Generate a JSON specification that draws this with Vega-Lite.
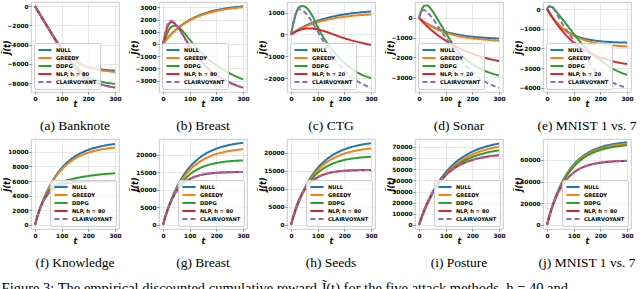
{
"$schema": "https://vega.github.io/schema/vega-lite/v6.json",
"padding": {"left": 1, "top": 1, "right": 0, "bottom": 0},
"datasets": {
"a": [
{"s":"NULL","t":0,"v":0},{"s":"NULL","t":10,"v":-470},{"s":"NULL","t":20,"v":-930},{"s":"NULL","t":30,"v":-1380},{"s":"NULL","t":45,"v":-2050},{"s":"NULL","t":60,"v":-2720},{"s":"NULL","t":80,"v":-3580},{"s":"NULL","t":100,"v":-4350},{"s":"NULL","t":130,"v":-5250},{"s":"NULL","t":160,"v":-5850},{"s":"NULL","t":200,"v":-6300},{"s":"NULL","t":250,"v":-6580},{"s":"NULL","t":300,"v":-6710},
{"s":"GREEDY","t":0,"v":0},{"s":"GREEDY","t":10,"v":-470},{"s":"GREEDY","t":20,"v":-930},{"s":"GREEDY","t":30,"v":-1380},{"s":"GREEDY","t":45,"v":-2050},{"s":"GREEDY","t":60,"v":-2720},{"s":"GREEDY","t":80,"v":-3580},{"s":"GREEDY","t":100,"v":-4340},{"s":"GREEDY","t":130,"v":-5260},{"s":"GREEDY","t":160,"v":-5900},{"s":"GREEDY","t":200,"v":-6380},{"s":"GREEDY","t":250,"v":-6680},{"s":"GREEDY","t":300,"v":-6850},
{"s":"DDPG","t":0,"v":0},{"s":"DDPG","t":10,"v":-470},{"s":"DDPG","t":20,"v":-930},{"s":"DDPG","t":30,"v":-1380},{"s":"DDPG","t":45,"v":-2060},{"s":"DDPG","t":60,"v":-2750},{"s":"DDPG","t":80,"v":-3650},{"s":"DDPG","t":100,"v":-4500},{"s":"DDPG","t":130,"v":-5600},{"s":"DDPG","t":160,"v":-6450},{"s":"DDPG","t":200,"v":-7350},{"s":"DDPG","t":250,"v":-7850},{"s":"DDPG","t":300,"v":-8080},
{"s":"NLP, h = 80","t":0,"v":0},{"s":"NLP, h = 80","t":10,"v":-470},{"s":"NLP, h = 80","t":20,"v":-935},{"s":"NLP, h = 80","t":30,"v":-1390},{"s":"NLP, h = 80","t":45,"v":-2080},{"s":"NLP, h = 80","t":60,"v":-2780},{"s":"NLP, h = 80","t":80,"v":-3700},{"s":"NLP, h = 80","t":100,"v":-4580},{"s":"NLP, h = 80","t":130,"v":-5750},{"s":"NLP, h = 80","t":160,"v":-6700},{"s":"NLP, h = 80","t":200,"v":-7650},{"s":"NLP, h = 80","t":250,"v":-8150},{"s":"NLP, h = 80","t":300,"v":-8460},
{"s":"CLAIRVOYANT","t":0,"v":0},{"s":"CLAIRVOYANT","t":10,"v":-470},{"s":"CLAIRVOYANT","t":20,"v":-935},{"s":"CLAIRVOYANT","t":30,"v":-1390},{"s":"CLAIRVOYANT","t":45,"v":-2080},{"s":"CLAIRVOYANT","t":60,"v":-2780},{"s":"CLAIRVOYANT","t":80,"v":-3700},{"s":"CLAIRVOYANT","t":100,"v":-4580},{"s":"CLAIRVOYANT","t":130,"v":-5750},{"s":"CLAIRVOYANT","t":160,"v":-6700},{"s":"CLAIRVOYANT","t":200,"v":-7650},{"s":"CLAIRVOYANT","t":250,"v":-8160},{"s":"CLAIRVOYANT","t":300,"v":-8480}
],
"b": [
{"s":"NULL","t":0,"v":0},{"s":"NULL","t":10,"v":287},{"s":"NULL","t":20,"v":549},{"s":"NULL","t":30,"v":788},{"s":"NULL","t":45,"v":1108},{"s":"NULL","t":60,"v":1387},{"s":"NULL","t":80,"v":1705},{"s":"NULL","t":100,"v":1970},{"s":"NULL","t":130,"v":2288},{"s":"NULL","t":160,"v":2529},{"s":"NULL","t":200,"v":2764},{"s":"NULL","t":250,"v":2960},{"s":"NULL","t":300,"v":3084},
{"s":"GREEDY","t":0,"v":0},{"s":"GREEDY","t":10,"v":280},{"s":"GREEDY","t":20,"v":535},{"s":"GREEDY","t":30,"v":769},{"s":"GREEDY","t":45,"v":1081},{"s":"GREEDY","t":60,"v":1354},{"s":"GREEDY","t":80,"v":1664},{"s":"GREEDY","t":100,"v":1923},{"s":"GREEDY","t":130,"v":2232},{"s":"GREEDY","t":160,"v":2468},{"s":"GREEDY","t":200,"v":2697},{"s":"GREEDY","t":250,"v":2888},{"s":"GREEDY","t":300,"v":3009},
{"s":"DDPG","t":0,"v":0},{"s":"DDPG","t":10,"v":550},{"s":"DDPG","t":20,"v":1050},{"s":"DDPG","t":30,"v":1380},{"s":"DDPG","t":45,"v":1500},{"s":"DDPG","t":60,"v":1350},{"s":"DDPG","t":80,"v":900},{"s":"DDPG","t":100,"v":350},{"s":"DDPG","t":130,"v":-400},{"s":"DDPG","t":160,"v":-1050},{"s":"DDPG","t":200,"v":-1750},{"s":"DDPG","t":250,"v":-2400},{"s":"DDPG","t":300,"v":-2900},
{"s":"NLP, h = 80","t":0,"v":0},{"s":"NLP, h = 80","t":10,"v":900},{"s":"NLP, h = 80","t":20,"v":1550},{"s":"NLP, h = 80","t":30,"v":1780},{"s":"NLP, h = 80","t":45,"v":1650},{"s":"NLP, h = 80","t":60,"v":1250},{"s":"NLP, h = 80","t":80,"v":550},{"s":"NLP, h = 80","t":100,"v":-150},{"s":"NLP, h = 80","t":130,"v":-1050},{"s":"NLP, h = 80","t":160,"v":-1800},{"s":"NLP, h = 80","t":200,"v":-2550},{"s":"NLP, h = 80","t":250,"v":-3150},{"s":"NLP, h = 80","t":300,"v":-3580},
{"s":"CLAIRVOYANT","t":0,"v":0},{"s":"CLAIRVOYANT","t":10,"v":1050},{"s":"CLAIRVOYANT","t":20,"v":1750},{"s":"CLAIRVOYANT","t":30,"v":1900},{"s":"CLAIRVOYANT","t":45,"v":1700},{"s":"CLAIRVOYANT","t":60,"v":1250},{"s":"CLAIRVOYANT","t":80,"v":500},{"s":"CLAIRVOYANT","t":100,"v":-200},{"s":"CLAIRVOYANT","t":130,"v":-1100},{"s":"CLAIRVOYANT","t":160,"v":-1850},{"s":"CLAIRVOYANT","t":200,"v":-2600},{"s":"CLAIRVOYANT","t":250,"v":-3180},{"s":"CLAIRVOYANT","t":300,"v":-3600}
],
"c": [
{"s":"NULL","t":0,"v":0},{"s":"NULL","t":10,"v":87},{"s":"NULL","t":20,"v":167},{"s":"NULL","t":30,"v":241},{"s":"NULL","t":45,"v":342},{"s":"NULL","t":60,"v":432},{"s":"NULL","t":80,"v":538},{"s":"NULL","t":100,"v":628},{"s":"NULL","t":130,"v":740},{"s":"NULL","t":160,"v":828},{"s":"NULL","t":200,"v":919},{"s":"NULL","t":250,"v":999},{"s":"NULL","t":300,"v":1054},
{"s":"GREEDY","t":0,"v":0},{"s":"GREEDY","t":10,"v":80},{"s":"GREEDY","t":20,"v":154},{"s":"GREEDY","t":30,"v":221},{"s":"GREEDY","t":45,"v":313},{"s":"GREEDY","t":60,"v":394},{"s":"GREEDY","t":80,"v":487},{"s":"GREEDY","t":100,"v":565},{"s":"GREEDY","t":130,"v":662},{"s":"GREEDY","t":160,"v":736},{"s":"GREEDY","t":200,"v":811},{"s":"GREEDY","t":250,"v":876},{"s":"GREEDY","t":300,"v":918},
{"s":"DDPG","t":0,"v":0},{"s":"DDPG","t":10,"v":550},{"s":"DDPG","t":20,"v":1000},{"s":"DDPG","t":30,"v":1250},{"s":"DDPG","t":45,"v":1300},{"s":"DDPG","t":60,"v":1200},{"s":"DDPG","t":80,"v":850},{"s":"DDPG","t":100,"v":350},{"s":"DDPG","t":130,"v":-300},{"s":"DDPG","t":160,"v":-800},{"s":"DDPG","t":200,"v":-1300},{"s":"DDPG","t":250,"v":-1750},{"s":"DDPG","t":300,"v":-2000},
{"s":"NLP, h = 20","t":0,"v":0},{"s":"NLP, h = 20","t":10,"v":80},{"s":"NLP, h = 20","t":20,"v":150},{"s":"NLP, h = 20","t":30,"v":200},{"s":"NLP, h = 20","t":45,"v":250},{"s":"NLP, h = 20","t":60,"v":275},{"s":"NLP, h = 20","t":80,"v":270},{"s":"NLP, h = 20","t":100,"v":230},{"s":"NLP, h = 20","t":130,"v":130},{"s":"NLP, h = 20","t":160,"v":0},{"s":"NLP, h = 20","t":200,"v":-170},{"s":"NLP, h = 20","t":250,"v":-340},{"s":"NLP, h = 20","t":300,"v":-480},
{"s":"CLAIRVOYANT","t":0,"v":0},{"s":"CLAIRVOYANT","t":10,"v":600},{"s":"CLAIRVOYANT","t":20,"v":1050},{"s":"CLAIRVOYANT","t":30,"v":1150},{"s":"CLAIRVOYANT","t":45,"v":1080},{"s":"CLAIRVOYANT","t":60,"v":900},{"s":"CLAIRVOYANT","t":80,"v":550},{"s":"CLAIRVOYANT","t":100,"v":150},{"s":"CLAIRVOYANT","t":130,"v":-500},{"s":"CLAIRVOYANT","t":160,"v":-1050},{"s":"CLAIRVOYANT","t":200,"v":-1650},{"s":"CLAIRVOYANT","t":250,"v":-2150},{"s":"CLAIRVOYANT","t":300,"v":-2450}
],
"d": [
{"s":"NULL","t":0,"v":0},{"s":"NULL","t":10,"v":-105},{"s":"NULL","t":20,"v":-199},{"s":"NULL","t":30,"v":-285},{"s":"NULL","t":45,"v":-399},{"s":"NULL","t":60,"v":-496},{"s":"NULL","t":80,"v":-606},{"s":"NULL","t":100,"v":-695},{"s":"NULL","t":130,"v":-800},{"s":"NULL","t":160,"v":-878},{"s":"NULL","t":200,"v":-951},{"s":"NULL","t":250,"v":-1010},{"s":"NULL","t":300,"v":-1045},
{"s":"GREEDY","t":0,"v":0},{"s":"GREEDY","t":10,"v":-111},{"s":"GREEDY","t":20,"v":-212},{"s":"GREEDY","t":30,"v":-303},{"s":"GREEDY","t":45,"v":-425},{"s":"GREEDY","t":60,"v":-531},{"s":"GREEDY","t":80,"v":-650},{"s":"GREEDY","t":100,"v":-749},{"s":"GREEDY","t":130,"v":-866},{"s":"GREEDY","t":160,"v":-954},{"s":"GREEDY","t":200,"v":-1038},{"s":"GREEDY","t":250,"v":-1107},{"s":"GREEDY","t":300,"v":-1150},
{"s":"DDPG","t":0,"v":0},{"s":"DDPG","t":10,"v":400},{"s":"DDPG","t":20,"v":620},{"s":"DDPG","t":30,"v":630},{"s":"DDPG","t":45,"v":450},{"s":"DDPG","t":60,"v":150},{"s":"DDPG","t":80,"v":-300},{"s":"DDPG","t":100,"v":-750},{"s":"DDPG","t":130,"v":-1400},{"s":"DDPG","t":160,"v":-1900},{"s":"DDPG","t":200,"v":-2350},{"s":"DDPG","t":250,"v":-2700},{"s":"DDPG","t":300,"v":-2920},
{"s":"NLP, h = 20","t":0,"v":0},{"s":"NLP, h = 20","t":10,"v":-146},{"s":"NLP, h = 20","t":20,"v":-284},{"s":"NLP, h = 20","t":30,"v":-414},{"s":"NLP, h = 20","t":45,"v":-597},{"s":"NLP, h = 20","t":60,"v":-765},{"s":"NLP, h = 20","t":80,"v":-969},{"s":"NLP, h = 20","t":100,"v":-1151},{"s":"NLP, h = 20","t":130,"v":-1389},{"s":"NLP, h = 20","t":160,"v":-1590},{"s":"NLP, h = 20","t":200,"v":-1811},{"s":"NLP, h = 20","t":250,"v":-2027},{"s":"NLP, h = 20","t":300,"v":-2190},
{"s":"CLAIRVOYANT","t":0,"v":0},{"s":"CLAIRVOYANT","t":10,"v":380},{"s":"CLAIRVOYANT","t":20,"v":400},{"s":"CLAIRVOYANT","t":30,"v":300},{"s":"CLAIRVOYANT","t":45,"v":80},{"s":"CLAIRVOYANT","t":60,"v":-200},{"s":"CLAIRVOYANT","t":80,"v":-600},{"s":"CLAIRVOYANT","t":100,"v":-1000},{"s":"CLAIRVOYANT","t":130,"v":-1600},{"s":"CLAIRVOYANT","t":160,"v":-2150},{"s":"CLAIRVOYANT","t":200,"v":-2750},{"s":"CLAIRVOYANT","t":250,"v":-3250},{"s":"CLAIRVOYANT","t":300,"v":-3550}
],
"e": [
{"s":"NULL","t":0,"v":0},{"s":"NULL","t":10,"v":-230},{"s":"NULL","t":20,"v":-430},{"s":"NULL","t":30,"v":-603},{"s":"NULL","t":45,"v":-820},{"s":"NULL","t":60,"v":-996},{"s":"NULL","t":80,"v":-1178},{"s":"NULL","t":100,"v":-1315},{"s":"NULL","t":130,"v":-1460},{"s":"NULL","t":160,"v":-1554},{"s":"NULL","t":200,"v":-1631},{"s":"NULL","t":250,"v":-1681},{"s":"NULL","t":300,"v":-1706},
{"s":"GREEDY","t":0,"v":0},{"s":"GREEDY","t":10,"v":-216},{"s":"GREEDY","t":20,"v":-409},{"s":"GREEDY","t":30,"v":-580},{"s":"GREEDY","t":45,"v":-801},{"s":"GREEDY","t":60,"v":-987},{"s":"GREEDY","t":80,"v":-1189},{"s":"GREEDY","t":100,"v":-1349},{"s":"GREEDY","t":130,"v":-1527},{"s":"GREEDY","t":160,"v":-1653},{"s":"GREEDY","t":200,"v":-1765},{"s":"GREEDY","t":250,"v":-1847},{"s":"GREEDY","t":300,"v":-1893},
{"s":"DDPG","t":0,"v":0},{"s":"DDPG","t":10,"v":120},{"s":"DDPG","t":20,"v":100},{"s":"DDPG","t":30,"v":-50},{"s":"DDPG","t":45,"v":-300},{"s":"DDPG","t":60,"v":-550},{"s":"DDPG","t":80,"v":-900},{"s":"DDPG","t":100,"v":-1250},{"s":"DDPG","t":130,"v":-1750},{"s":"DDPG","t":160,"v":-2150},{"s":"DDPG","t":200,"v":-2600},{"s":"DDPG","t":250,"v":-3050},{"s":"DDPG","t":300,"v":-3340},
{"s":"NLP, h = 20","t":0,"v":0},{"s":"NLP, h = 20","t":10,"v":-200},{"s":"NLP, h = 20","t":20,"v":-420},{"s":"NLP, h = 20","t":30,"v":-620},{"s":"NLP, h = 20","t":45,"v":-900},{"s":"NLP, h = 20","t":60,"v":-1150},{"s":"NLP, h = 20","t":80,"v":-1450},{"s":"NLP, h = 20","t":100,"v":-1700},{"s":"NLP, h = 20","t":130,"v":-2000},{"s":"NLP, h = 20","t":160,"v":-2230},{"s":"NLP, h = 20","t":200,"v":-2450},{"s":"NLP, h = 20","t":250,"v":-2660},{"s":"NLP, h = 20","t":300,"v":-2790},
{"s":"CLAIRVOYANT","t":0,"v":0},{"s":"CLAIRVOYANT","t":10,"v":150},{"s":"CLAIRVOYANT","t":20,"v":100},{"s":"CLAIRVOYANT","t":30,"v":-100},{"s":"CLAIRVOYANT","t":45,"v":-450},{"s":"CLAIRVOYANT","t":60,"v":-800},{"s":"CLAIRVOYANT","t":80,"v":-1200},{"s":"CLAIRVOYANT","t":100,"v":-1600},{"s":"CLAIRVOYANT","t":130,"v":-2250},{"s":"CLAIRVOYANT","t":160,"v":-2800},{"s":"CLAIRVOYANT","t":200,"v":-3350},{"s":"CLAIRVOYANT","t":250,"v":-3750},{"s":"CLAIRVOYANT","t":300,"v":-4000}
],
"f": [
{"s":"NULL","t":0,"v":0},{"s":"NULL","t":10,"v":1230},{"s":"NULL","t":20,"v":2328},{"s":"NULL","t":30,"v":3308},{"s":"NULL","t":45,"v":4583},{"s":"NULL","t":60,"v":5660},{"s":"NULL","t":80,"v":6837},{"s":"NULL","t":100,"v":7775},{"s":"NULL","t":130,"v":8836},{"s":"NULL","t":160,"v":9592},{"s":"NULL","t":200,"v":10271},{"s":"NULL","t":250,"v":10781},{"s":"NULL","t":300,"v":11071},
{"s":"GREEDY","t":0,"v":0},{"s":"GREEDY","t":10,"v":1223},{"s":"GREEDY","t":20,"v":2310},{"s":"GREEDY","t":30,"v":3273},{"s":"GREEDY","t":45,"v":4520},{"s":"GREEDY","t":60,"v":5564},{"s":"GREEDY","t":80,"v":6694},{"s":"GREEDY","t":100,"v":7585},{"s":"GREEDY","t":130,"v":8580},{"s":"GREEDY","t":160,"v":9277},{"s":"GREEDY","t":200,"v":9892},{"s":"GREEDY","t":250,"v":10344},{"s":"GREEDY","t":300,"v":10594},
{"s":"DDPG","t":0,"v":0},{"s":"DDPG","t":10,"v":1250},{"s":"DDPG","t":20,"v":2350},{"s":"DDPG","t":30,"v":3250},{"s":"DDPG","t":45,"v":4300},{"s":"DDPG","t":60,"v":5000},{"s":"DDPG","t":80,"v":5550},{"s":"DDPG","t":100,"v":5850},{"s":"DDPG","t":130,"v":6200},{"s":"DDPG","t":160,"v":6450},{"s":"DDPG","t":200,"v":6700},{"s":"DDPG","t":250,"v":6920},{"s":"DDPG","t":300,"v":7070},
{"s":"NLP, h = 80","t":0,"v":0},{"s":"NLP, h = 80","t":10,"v":1327},{"s":"NLP, h = 80","t":20,"v":2361},{"s":"NLP, h = 80","t":30,"v":3166},{"s":"NLP, h = 80","t":45,"v":4052},{"s":"NLP, h = 80","t":60,"v":4661},{"s":"NLP, h = 80","t":80,"v":5188},{"s":"NLP, h = 80","t":100,"v":5507},{"s":"NLP, h = 80","t":130,"v":5767},{"s":"NLP, h = 80","t":160,"v":5890},{"s":"NLP, h = 80","t":200,"v":5960},{"s":"NLP, h = 80","t":250,"v":5989},{"s":"NLP, h = 80","t":300,"v":5997},
{"s":"CLAIRVOYANT","t":0,"v":0},{"s":"CLAIRVOYANT","t":10,"v":1327},{"s":"CLAIRVOYANT","t":20,"v":2361},{"s":"CLAIRVOYANT","t":30,"v":3166},{"s":"CLAIRVOYANT","t":45,"v":4052},{"s":"CLAIRVOYANT","t":60,"v":4661},{"s":"CLAIRVOYANT","t":80,"v":5188},{"s":"CLAIRVOYANT","t":100,"v":5507},{"s":"CLAIRVOYANT","t":130,"v":5767},{"s":"CLAIRVOYANT","t":160,"v":5890},{"s":"CLAIRVOYANT","t":200,"v":5960},{"s":"CLAIRVOYANT","t":250,"v":5989},{"s":"CLAIRVOYANT","t":300,"v":5997}
],
"g": [
{"s":"NULL","t":0,"v":0},{"s":"NULL","t":10,"v":2599},{"s":"NULL","t":20,"v":4920},{"s":"NULL","t":30,"v":6991},{"s":"NULL","t":45,"v":9687},{"s":"NULL","t":60,"v":11962},{"s":"NULL","t":80,"v":14450},{"s":"NULL","t":100,"v":16432},{"s":"NULL","t":130,"v":18675},{"s":"NULL","t":160,"v":20272},{"s":"NULL","t":200,"v":21707},{"s":"NULL","t":250,"v":22787},{"s":"NULL","t":300,"v":23399},
{"s":"GREEDY","t":0,"v":0},{"s":"GREEDY","t":10,"v":2539},{"s":"GREEDY","t":20,"v":4788},{"s":"GREEDY","t":30,"v":6774},{"s":"GREEDY","t":45,"v":9339},{"s":"GREEDY","t":60,"v":11476},{"s":"GREEDY","t":80,"v":13780},{"s":"GREEDY","t":100,"v":15582},{"s":"GREEDY","t":130,"v":17586},{"s":"GREEDY","t":160,"v":18972},{"s":"GREEDY","t":200,"v":20187},{"s":"GREEDY","t":250,"v":21067},{"s":"GREEDY","t":300,"v":21544},
{"s":"DDPG","t":0,"v":0},{"s":"DDPG","t":10,"v":2543},{"s":"DDPG","t":20,"v":4739},{"s":"DDPG","t":30,"v":6635},{"s":"DDPG","t":45,"v":9002},{"s":"DDPG","t":60,"v":10903},{"s":"DDPG","t":80,"v":12864},{"s":"DDPG","t":100,"v":14326},{"s":"DDPG","t":130,"v":15851},{"s":"DDPG","t":160,"v":16831},{"s":"DDPG","t":200,"v":17618},{"s":"DDPG","t":250,"v":18129},{"s":"DDPG","t":300,"v":18375},
{"s":"NLP, h = 80","t":0,"v":0},{"s":"NLP, h = 80","t":10,"v":2738},{"s":"NLP, h = 80","t":20,"v":4978},{"s":"NLP, h = 80","t":30,"v":6813},{"s":"NLP, h = 80","t":45,"v":8960},{"s":"NLP, h = 80","t":60,"v":10552},{"s":"NLP, h = 80","t":80,"v":12051},{"s":"NLP, h = 80","t":100,"v":13057},{"s":"NLP, h = 80","t":130,"v":13978},{"s":"NLP, h = 80","t":160,"v":14484},{"s":"NLP, h = 80","t":200,"v":14824},{"s":"NLP, h = 80","t":250,"v":14999},{"s":"NLP, h = 80","t":300,"v":15062},
{"s":"CLAIRVOYANT","t":0,"v":0},{"s":"CLAIRVOYANT","t":10,"v":2738},{"s":"CLAIRVOYANT","t":20,"v":4978},{"s":"CLAIRVOYANT","t":30,"v":6813},{"s":"CLAIRVOYANT","t":45,"v":8960},{"s":"CLAIRVOYANT","t":60,"v":10552},{"s":"CLAIRVOYANT","t":80,"v":12051},{"s":"CLAIRVOYANT","t":100,"v":13057},{"s":"CLAIRVOYANT","t":130,"v":13978},{"s":"CLAIRVOYANT","t":160,"v":14484},{"s":"CLAIRVOYANT","t":200,"v":14824},{"s":"CLAIRVOYANT","t":250,"v":14999},{"s":"CLAIRVOYANT","t":300,"v":15062}
],
"h": [
{"s":"NULL","t":0,"v":0},{"s":"NULL","t":10,"v":2468},{"s":"NULL","t":20,"v":4677},{"s":"NULL","t":30,"v":6662},{"s":"NULL","t":45,"v":9247},{"s":"NULL","t":60,"v":11435},{"s":"NULL","t":80,"v":13839},{"s":"NULL","t":100,"v":15764},{"s":"NULL","t":130,"v":17956},{"s":"NULL","t":160,"v":19529},{"s":"NULL","t":200,"v":20953},{"s":"NULL","t":250,"v":22038},{"s":"NULL","t":300,"v":22661},
{"s":"GREEDY","t":0,"v":0},{"s":"GREEDY","t":10,"v":2446},{"s":"GREEDY","t":20,"v":4619},{"s":"GREEDY","t":30,"v":6547},{"s":"GREEDY","t":45,"v":9040},{"s":"GREEDY","t":60,"v":11129},{"s":"GREEDY","t":80,"v":13387},{"s":"GREEDY","t":100,"v":15171},{"s":"GREEDY","t":130,"v":17161},{"s":"GREEDY","t":160,"v":18554},{"s":"GREEDY","t":200,"v":19784},{"s":"GREEDY","t":250,"v":20688},{"s":"GREEDY","t":300,"v":21187},
{"s":"DDPG","t":0,"v":0},{"s":"DDPG","t":10,"v":2490},{"s":"DDPG","t":20,"v":4656},{"s":"DDPG","t":30,"v":6543},{"s":"DDPG","t":45,"v":8922},{"s":"DDPG","t":60,"v":10856},{"s":"DDPG","t":80,"v":12879},{"s":"DDPG","t":100,"v":14413},{"s":"DDPG","t":130,"v":16044},{"s":"DDPG","t":160,"v":17119},{"s":"DDPG","t":200,"v":18006},{"s":"DDPG","t":250,"v":18605},{"s":"DDPG","t":300,"v":18902},
{"s":"NLP, h = 80","t":0,"v":0},{"s":"NLP, h = 80","t":10,"v":2774},{"s":"NLP, h = 80","t":20,"v":5044},{"s":"NLP, h = 80","t":30,"v":6903},{"s":"NLP, h = 80","t":45,"v":9079},{"s":"NLP, h = 80","t":60,"v":10692},{"s":"NLP, h = 80","t":80,"v":12211},{"s":"NLP, h = 80","t":100,"v":13230},{"s":"NLP, h = 80","t":130,"v":14163},{"s":"NLP, h = 80","t":160,"v":14676},{"s":"NLP, h = 80","t":200,"v":15020},{"s":"NLP, h = 80","t":250,"v":15197},{"s":"NLP, h = 80","t":300,"v":15262},
{"s":"CLAIRVOYANT","t":0,"v":0},{"s":"CLAIRVOYANT","t":10,"v":2774},{"s":"CLAIRVOYANT","t":20,"v":5044},{"s":"CLAIRVOYANT","t":30,"v":6903},{"s":"CLAIRVOYANT","t":45,"v":9079},{"s":"CLAIRVOYANT","t":60,"v":10692},{"s":"CLAIRVOYANT","t":80,"v":12211},{"s":"CLAIRVOYANT","t":100,"v":13230},{"s":"CLAIRVOYANT","t":130,"v":14163},{"s":"CLAIRVOYANT","t":160,"v":14676},{"s":"CLAIRVOYANT","t":200,"v":15020},{"s":"CLAIRVOYANT","t":250,"v":15197},{"s":"CLAIRVOYANT","t":300,"v":15262}
],
"i": [
{"s":"NULL","t":0,"v":0},{"s":"NULL","t":10,"v":6895},{"s":"NULL","t":20,"v":13190},{"s":"NULL","t":30,"v":18915},{"s":"NULL","t":45,"v":26582},{"s":"NULL","t":60,"v":33244},{"s":"NULL","t":80,"v":40810},{"s":"NULL","t":100,"v":47096},{"s":"NULL","t":130,"v":54600},{"s":"NULL","t":160,"v":60263},{"s":"NULL","t":200,"v":65762},{"s":"NULL","t":250,"v":70294},{"s":"NULL","t":300,"v":73148},
{"s":"GREEDY","t":0,"v":0},{"s":"GREEDY","t":10,"v":6630},{"s":"GREEDY","t":20,"v":12683},{"s":"GREEDY","t":30,"v":18188},{"s":"GREEDY","t":45,"v":25560},{"s":"GREEDY","t":60,"v":31965},{"s":"GREEDY","t":80,"v":39240},{"s":"GREEDY","t":100,"v":45285},{"s":"GREEDY","t":130,"v":52500},{"s":"GREEDY","t":160,"v":57945},{"s":"GREEDY","t":200,"v":63233},{"s":"GREEDY","t":250,"v":67590},{"s":"GREEDY","t":300,"v":70335},
{"s":"DDPG","t":0,"v":0},{"s":"DDPG","t":10,"v":6712},{"s":"DDPG","t":20,"v":12782},{"s":"DDPG","t":30,"v":18274},{"s":"DDPG","t":45,"v":25549},{"s":"DDPG","t":60,"v":31810},{"s":"DDPG","t":80,"v":38824},{"s":"DDPG","t":100,"v":44563},{"s":"DDPG","t":130,"v":51289},{"s":"DDPG","t":160,"v":56266},{"s":"DDPG","t":200,"v":60961},{"s":"DDPG","t":250,"v":64712},{"s":"DDPG","t":300,"v":66989},
{"s":"NLP, h = 80","t":0,"v":0},{"s":"NLP, h = 80","t":10,"v":7160},{"s":"NLP, h = 80","t":20,"v":13526},{"s":"NLP, h = 80","t":30,"v":19182},{"s":"NLP, h = 80","t":45,"v":26510},{"s":"NLP, h = 80","t":60,"v":32656},{"s":"NLP, h = 80","t":80,"v":39332},{"s":"NLP, h = 80","t":100,"v":44608},{"s":"NLP, h = 80","t":130,"v":50523},{"s":"NLP, h = 80","t":160,"v":54683},{"s":"NLP, h = 80","t":200,"v":58366},{"s":"NLP, h = 80","t":250,"v":61094},{"s":"NLP, h = 80","t":300,"v":62610},
{"s":"CLAIRVOYANT","t":0,"v":0},{"s":"CLAIRVOYANT","t":10,"v":7160},{"s":"CLAIRVOYANT","t":20,"v":13526},{"s":"CLAIRVOYANT","t":30,"v":19182},{"s":"CLAIRVOYANT","t":45,"v":26510},{"s":"CLAIRVOYANT","t":60,"v":32656},{"s":"CLAIRVOYANT","t":80,"v":39332},{"s":"CLAIRVOYANT","t":100,"v":44608},{"s":"CLAIRVOYANT","t":130,"v":50523},{"s":"CLAIRVOYANT","t":160,"v":54683},{"s":"CLAIRVOYANT","t":200,"v":58366},{"s":"CLAIRVOYANT","t":250,"v":61094},{"s":"CLAIRVOYANT","t":300,"v":62610}
],
"j": [
{"s":"NULL","t":0,"v":0},{"s":"NULL","t":10,"v":9165},{"s":"NULL","t":20,"v":17254},{"s":"NULL","t":30,"v":24391},{"s":"NULL","t":45,"v":33556},{"s":"NULL","t":60,"v":41153},{"s":"NULL","t":80,"v":49304},{"s":"NULL","t":100,"v":55653},{"s":"NULL","t":130,"v":62642},{"s":"NULL","t":160,"v":67447},{"s":"NULL","t":200,"v":71596},{"s":"NULL","t":250,"v":74576},{"s":"NULL","t":300,"v":76167},
{"s":"GREEDY","t":0,"v":0},{"s":"GREEDY","t":10,"v":9012},{"s":"GREEDY","t":20,"v":16966},{"s":"GREEDY","t":30,"v":23984},{"s":"GREEDY","t":45,"v":32996},{"s":"GREEDY","t":60,"v":40467},{"s":"GREEDY","t":80,"v":48482},{"s":"GREEDY","t":100,"v":54725},{"s":"GREEDY","t":130,"v":61598},{"s":"GREEDY","t":160,"v":66322},{"s":"GREEDY","t":200,"v":70403},{"s":"GREEDY","t":250,"v":73333},{"s":"GREEDY","t":300,"v":74898},
{"s":"DDPG","t":0,"v":0},{"s":"DDPG","t":10,"v":8848},{"s":"DDPG","t":20,"v":16656},{"s":"DDPG","t":30,"v":23546},{"s":"DDPG","t":45,"v":32394},{"s":"DDPG","t":60,"v":39728},{"s":"DDPG","t":80,"v":47597},{"s":"DDPG","t":100,"v":53727},{"s":"DDPG","t":130,"v":60473},{"s":"DDPG","t":160,"v":65112},{"s":"DDPG","t":200,"v":69118},{"s":"DDPG","t":250,"v":71994},{"s":"DDPG","t":300,"v":73530},
{"s":"NLP, h = 80","t":0,"v":0},{"s":"NLP, h = 80","t":10,"v":9133},{"s":"NLP, h = 80","t":20,"v":16868},{"s":"NLP, h = 80","t":30,"v":23413},{"s":"NLP, h = 80","t":45,"v":31392},{"s":"NLP, h = 80","t":60,"v":37610},{"s":"NLP, h = 80","t":80,"v":43816},{"s":"NLP, h = 80","t":100,"v":48260},{"s":"NLP, h = 80","t":130,"v":52681},{"s":"NLP, h = 80","t":160,"v":55365},{"s":"NLP, h = 80","t":200,"v":57376},{"s":"NLP, h = 80","t":250,"v":58578},{"s":"NLP, h = 80","t":300,"v":59101},
{"s":"CLAIRVOYANT","t":0,"v":0},{"s":"CLAIRVOYANT","t":10,"v":9133},{"s":"CLAIRVOYANT","t":20,"v":16868},{"s":"CLAIRVOYANT","t":30,"v":23413},{"s":"CLAIRVOYANT","t":45,"v":31392},{"s":"CLAIRVOYANT","t":60,"v":37610},{"s":"CLAIRVOYANT","t":80,"v":43816},{"s":"CLAIRVOYANT","t":100,"v":48260},{"s":"CLAIRVOYANT","t":130,"v":52681},{"s":"CLAIRVOYANT","t":160,"v":55365},{"s":"CLAIRVOYANT","t":200,"v":57376},{"s":"CLAIRVOYANT","t":250,"v":58578},{"s":"CLAIRVOYANT","t":300,"v":59101}
]
},
"title": {"text": "Figure 3: The empirical discounted cumulative reward J̃(t) for the five attack methods, h = 40 and", "orient": "bottom", "anchor": "start", "frame": "bounds", "font": "Liberation Serif", "fontSize": 14.5, "fontWeight": "normal", "color": "#000", "offset": 12, "dx": -1},
"columns": 5,
"spacing": {"row": 47, "column": 40},
"bounds": "flush",
"resolve": {"scale": {"color": "independent", "strokeDash": "independent"}, "legend": {"color": "independent", "strokeDash": "independent"}},
"concat": [
 {"width": 88, "height": 90, "data": {"name": "a"},
  "title": {"text": "(a) Banknote", "orient": "bottom", "frame": "group", "offset": 10, "font": "Liberation Serif", "fontSize": 13.5, "fontWeight": "normal", "color": "#000"},
  "mark": {"type": "line", "strokeWidth": 2, "interpolate": "monotone"},
  "encoding": {
   "x": {"field": "t", "type": "quantitative", "scale": {"domain": [-15, 315], "nice": false}, "axis": {"values": [0, 100, 200, 300], "title": "t"}},
   "y": {"field": "v", "type": "quantitative", "scale": {"domain": [-8925, 425], "nice": false, "zero": false}, "axis": {"values": [0, -2000, -4000, -6000, -8000], "title": "J̃(t)", "format": "d"}},
   "color": {"field": "s", "type": "nominal", "scale": {"domain": ["NULL", "GREEDY", "DDPG", "NLP, h = 80", "CLAIRVOYANT"], "range": ["#1f77b4", "#ff7f0e", "#2ca02c", "#d62728", "#9467bd"]}, "legend": {"title": null, "orient": "bottom-left"}},
   "strokeDash": {"field": "s", "type": "nominal", "scale": {"domain": ["NULL", "GREEDY", "DDPG", "NLP, h = 80", "CLAIRVOYANT"], "range": [[1, 0], [1, 0], [1, 0], [1, 0], [5, 3]]}, "legend": {"title": null, "orient": "bottom-left"}}
  }},
 {"width": 88, "height": 90, "data": {"name": "b"},
  "title": {"text": "(b) Breast", "orient": "bottom", "frame": "group", "offset": 10, "font": "Liberation Serif", "fontSize": 13.5, "fontWeight": "normal", "color": "#000"},
  "mark": {"type": "line", "strokeWidth": 2, "interpolate": "monotone"},
  "encoding": {
   "x": {"field": "t", "type": "quantitative", "scale": {"domain": [-15, 315], "nice": false}, "axis": {"values": [0, 100, 200, 300], "title": "t"}},
   "y": {"field": "v", "type": "quantitative", "scale": {"domain": [-3935, 3435], "nice": false, "zero": false}, "axis": {"values": [-3000, -2000, -1000, 0, 1000, 2000, 3000], "title": "J̃(t)", "format": "d"}},
   "color": {"field": "s", "type": "nominal", "scale": {"domain": ["NULL", "GREEDY", "DDPG", "NLP, h = 80", "CLAIRVOYANT"], "range": ["#1f77b4", "#ff7f0e", "#2ca02c", "#d62728", "#9467bd"]}, "legend": {"title": null, "orient": "bottom-left"}},
   "strokeDash": {"field": "s", "type": "nominal", "scale": {"domain": ["NULL", "GREEDY", "DDPG", "NLP, h = 80", "CLAIRVOYANT"], "range": [[1, 0], [1, 0], [1, 0], [1, 0], [5, 3]]}, "legend": {"title": null, "orient": "bottom-left"}}
  }},
 {"width": 88, "height": 90, "data": {"name": "c"},
  "title": {"text": "(c) CTG", "orient": "bottom", "frame": "group", "offset": 10, "font": "Liberation Serif", "fontSize": 13.5, "fontWeight": "normal", "color": "#000"},
  "mark": {"type": "line", "strokeWidth": 2, "interpolate": "monotone"},
  "encoding": {
   "x": {"field": "t", "type": "quantitative", "scale": {"domain": [-15, 315], "nice": false}, "axis": {"values": [0, 100, 200, 300], "title": "t"}},
   "y": {"field": "v", "type": "quantitative", "scale": {"domain": [-2637, 1487], "nice": false, "zero": false}, "axis": {"values": [-2000, -1000, 0, 1000], "title": "J̃(t)", "format": "d"}},
   "color": {"field": "s", "type": "nominal", "scale": {"domain": ["NULL", "GREEDY", "DDPG", "NLP, h = 20", "CLAIRVOYANT"], "range": ["#1f77b4", "#ff7f0e", "#2ca02c", "#d62728", "#9467bd"]}, "legend": {"title": null, "orient": "bottom-left"}},
   "strokeDash": {"field": "s", "type": "nominal", "scale": {"domain": ["NULL", "GREEDY", "DDPG", "NLP, h = 20", "CLAIRVOYANT"], "range": [[1, 0], [1, 0], [1, 0], [1, 0], [5, 3]]}, "legend": {"title": null, "orient": "bottom-left"}}
  }},
 {"width": 88, "height": 90, "data": {"name": "d"},
  "title": {"text": "(d) Sonar", "orient": "bottom", "frame": "group", "offset": 10, "font": "Liberation Serif", "fontSize": 13.5, "fontWeight": "normal", "color": "#000"},
  "mark": {"type": "line", "strokeWidth": 2, "interpolate": "monotone"},
  "encoding": {
   "x": {"field": "t", "type": "quantitative", "scale": {"domain": [-15, 315], "nice": false}, "axis": {"values": [0, 100, 200, 300], "title": "t"}},
   "y": {"field": "v", "type": "quantitative", "scale": {"domain": [-3757, 807], "nice": false, "zero": false}, "axis": {"values": [-3000, -2000, -1000, 0], "title": "J̃(t)", "format": "d"}},
   "color": {"field": "s", "type": "nominal", "scale": {"domain": ["NULL", "GREEDY", "DDPG", "NLP, h = 20", "CLAIRVOYANT"], "range": ["#1f77b4", "#ff7f0e", "#2ca02c", "#d62728", "#9467bd"]}, "legend": {"title": null, "orient": "bottom-left"}},
   "strokeDash": {"field": "s", "type": "nominal", "scale": {"domain": ["NULL", "GREEDY", "DDPG", "NLP, h = 20", "CLAIRVOYANT"], "range": [[1, 0], [1, 0], [1, 0], [1, 0], [5, 3]]}, "legend": {"title": null, "orient": "bottom-left"}}
  }},
 {"width": 88, "height": 90, "data": {"name": "e"},
  "title": {"text": "(e) MNIST 1 vs. 7", "orient": "bottom", "frame": "group", "offset": 10, "font": "Liberation Serif", "fontSize": 13.5, "fontWeight": "normal", "color": "#000"},
  "mark": {"type": "line", "strokeWidth": 2, "interpolate": "monotone"},
  "encoding": {
   "x": {"field": "t", "type": "quantitative", "scale": {"domain": [-15, 315], "nice": false}, "axis": {"values": [0, 100, 200, 300], "title": "t"}},
   "y": {"field": "v", "type": "quantitative", "scale": {"domain": [-4207, 357], "nice": false, "zero": false}, "axis": {"values": [-4000, -3000, -2000, -1000, 0], "title": "J̃(t)", "format": "d"}},
   "color": {"field": "s", "type": "nominal", "scale": {"domain": ["NULL", "GREEDY", "DDPG", "NLP, h = 20", "CLAIRVOYANT"], "range": ["#1f77b4", "#ff7f0e", "#2ca02c", "#d62728", "#9467bd"]}, "legend": {"title": null, "orient": "bottom-left"}},
   "strokeDash": {"field": "s", "type": "nominal", "scale": {"domain": ["NULL", "GREEDY", "DDPG", "NLP, h = 20", "CLAIRVOYANT"], "range": [[1, 0], [1, 0], [1, 0], [1, 0], [5, 3]]}, "legend": {"title": null, "orient": "bottom-left"}}
  }},
 {"width": 88, "height": 90, "data": {"name": "f"},
  "title": {"text": "(f) Knowledge", "orient": "bottom", "frame": "group", "offset": 10, "font": "Liberation Serif", "fontSize": 13.5, "fontWeight": "normal", "color": "#000"},
  "mark": {"type": "line", "strokeWidth": 2, "interpolate": "monotone"},
  "encoding": {
   "x": {"field": "t", "type": "quantitative", "scale": {"domain": [-15, 315], "nice": false}, "axis": {"values": [0, 100, 200, 300], "title": "t"}},
   "y": {"field": "v", "type": "quantitative", "scale": {"domain": [-560, 11760], "nice": false, "zero": false}, "axis": {"values": [0, 2000, 4000, 6000, 8000, 10000], "title": "J̃(t)", "format": "d"}},
   "color": {"field": "s", "type": "nominal", "scale": {"domain": ["NULL", "GREEDY", "DDPG", "NLP, h = 80", "CLAIRVOYANT"], "range": ["#1f77b4", "#ff7f0e", "#2ca02c", "#d62728", "#9467bd"]}, "legend": {"title": null, "orient": "bottom-right"}},
   "strokeDash": {"field": "s", "type": "nominal", "scale": {"domain": ["NULL", "GREEDY", "DDPG", "NLP, h = 80", "CLAIRVOYANT"], "range": [[1, 0], [1, 0], [1, 0], [1, 0], [5, 3]]}, "legend": {"title": null, "orient": "bottom-right"}}
  }},
 {"width": 88, "height": 90, "data": {"name": "g"},
  "title": {"text": "(g) Breast", "orient": "bottom", "frame": "group", "offset": 10, "font": "Liberation Serif", "fontSize": 13.5, "fontWeight": "normal", "color": "#000"},
  "mark": {"type": "line", "strokeWidth": 2, "interpolate": "monotone"},
  "encoding": {
   "x": {"field": "t", "type": "quantitative", "scale": {"domain": [-15, 315], "nice": false}, "axis": {"values": [0, 100, 200, 300], "title": "t"}},
   "y": {"field": "v", "type": "quantitative", "scale": {"domain": [-1165, 24465], "nice": false, "zero": false}, "axis": {"values": [0, 5000, 10000, 15000, 20000], "title": "J̃(t)", "format": "d"}},
   "color": {"field": "s", "type": "nominal", "scale": {"domain": ["NULL", "GREEDY", "DDPG", "NLP, h = 80", "CLAIRVOYANT"], "range": ["#1f77b4", "#ff7f0e", "#2ca02c", "#d62728", "#9467bd"]}, "legend": {"title": null, "orient": "bottom-right"}},
   "strokeDash": {"field": "s", "type": "nominal", "scale": {"domain": ["NULL", "GREEDY", "DDPG", "NLP, h = 80", "CLAIRVOYANT"], "range": [[1, 0], [1, 0], [1, 0], [1, 0], [5, 3]]}, "legend": {"title": null, "orient": "bottom-right"}}
  }},
 {"width": 88, "height": 90, "data": {"name": "h"},
  "title": {"text": "(h) Seeds", "orient": "bottom", "frame": "group", "offset": 10, "font": "Liberation Serif", "fontSize": 13.5, "fontWeight": "normal", "color": "#000"},
  "mark": {"type": "line", "strokeWidth": 2, "interpolate": "monotone"},
  "encoding": {
   "x": {"field": "t", "type": "quantitative", "scale": {"domain": [-15, 315], "nice": false}, "axis": {"values": [0, 100, 200, 300], "title": "t"}},
   "y": {"field": "v", "type": "quantitative", "scale": {"domain": [-1135, 23835], "nice": false, "zero": false}, "axis": {"values": [0, 5000, 10000, 15000, 20000], "title": "J̃(t)", "format": "d"}},
   "color": {"field": "s", "type": "nominal", "scale": {"domain": ["NULL", "GREEDY", "DDPG", "NLP, h = 80", "CLAIRVOYANT"], "range": ["#1f77b4", "#ff7f0e", "#2ca02c", "#d62728", "#9467bd"]}, "legend": {"title": null, "orient": "bottom-right"}},
   "strokeDash": {"field": "s", "type": "nominal", "scale": {"domain": ["NULL", "GREEDY", "DDPG", "NLP, h = 80", "CLAIRVOYANT"], "range": [[1, 0], [1, 0], [1, 0], [1, 0], [5, 3]]}, "legend": {"title": null, "orient": "bottom-right"}}
  }},
 {"width": 88, "height": 90, "data": {"name": "i"},
  "title": {"text": "(i) Posture", "orient": "bottom", "frame": "group", "offset": 10, "font": "Liberation Serif", "fontSize": 13.5, "fontWeight": "normal", "color": "#000"},
  "mark": {"type": "line", "strokeWidth": 2, "interpolate": "monotone"},
  "encoding": {
   "x": {"field": "t", "type": "quantitative", "scale": {"domain": [-15, 315], "nice": false}, "axis": {"values": [0, 100, 200, 300], "title": "t"}},
   "y": {"field": "v", "type": "quantitative", "scale": {"domain": [-3675, 77175], "nice": false, "zero": false}, "axis": {"values": [0, 10000, 20000, 30000, 40000, 50000, 60000, 70000], "title": "J̃(t)", "format": "d"}},
   "color": {"field": "s", "type": "nominal", "scale": {"domain": ["NULL", "GREEDY", "DDPG", "NLP, h = 80", "CLAIRVOYANT"], "range": ["#1f77b4", "#ff7f0e", "#2ca02c", "#d62728", "#9467bd"]}, "legend": {"title": null, "orient": "bottom-right"}},
   "strokeDash": {"field": "s", "type": "nominal", "scale": {"domain": ["NULL", "GREEDY", "DDPG", "NLP, h = 80", "CLAIRVOYANT"], "range": [[1, 0], [1, 0], [1, 0], [1, 0], [5, 3]]}, "legend": {"title": null, "orient": "bottom-right"}}
  }},
 {"width": 88, "height": 90, "data": {"name": "j"},
  "title": {"text": "(j) MNIST 1 vs. 7", "orient": "bottom", "frame": "group", "offset": 10, "font": "Liberation Serif", "fontSize": 13.5, "fontWeight": "normal", "color": "#000"},
  "mark": {"type": "line", "strokeWidth": 2, "interpolate": "monotone"},
  "encoding": {
   "x": {"field": "t", "type": "quantitative", "scale": {"domain": [-15, 315], "nice": false}, "axis": {"values": [0, 100, 200, 300], "title": "t"}},
   "y": {"field": "v", "type": "quantitative", "scale": {"domain": [-3775, 79275], "nice": false, "zero": false}, "axis": {"values": [0, 20000, 40000, 60000], "title": "J̃(t)", "format": "d"}},
   "color": {"field": "s", "type": "nominal", "scale": {"domain": ["NULL", "GREEDY", "DDPG", "NLP, h = 80", "CLAIRVOYANT"], "range": ["#1f77b4", "#ff7f0e", "#2ca02c", "#d62728", "#9467bd"]}, "legend": {"title": null, "orient": "bottom-right"}},
   "strokeDash": {"field": "s", "type": "nominal", "scale": {"domain": ["NULL", "GREEDY", "DDPG", "NLP, h = 80", "CLAIRVOYANT"], "range": [[1, 0], [1, 0], [1, 0], [1, 0], [5, 3]]}, "legend": {"title": null, "orient": "bottom-right"}}
  }}
],
"config": {
 "background": "white",
 "view": {"stroke": "#bbb", "strokeWidth": 0.8},
 "axis": {"labelFont": "DejaVu Sans", "labelFontWeight": "bold", "labelFontSize": 5.8, "labelColor": "#000", "tickSize": 2, "tickColor": "#333", "tickWidth": 0.6, "labelPadding": 1, "domain": false, "gridColor": "#ddd", "gridWidth": 0.7, "titleFont": "DejaVu Sans", "titleFontStyle": "italic", "titleFontWeight": "bold", "titleFontSize": 8, "titleColor": "#000"},
 "axisY": {"minExtent": 20, "maxExtent": 20, "titlePadding": 0},
 "axisX": {"titlePadding": 0},
 "legend": {"labelFont": "DejaVu Sans", "labelFontWeight": "bold", "labelFontSize": 5.2, "labelColor": "#000", "symbolType": "M-2.2,0H2.2", "symbolSize": 36, "symbolStrokeWidth": 2, "symbolOffset": 4, "labelOffset": 7, "rowPadding": 0, "padding": 3, "offset": 3, "fillColor": "rgba(255,255,255,0.8)", "strokeColor": "#ccc", "cornerRadius": 2}
}
}
